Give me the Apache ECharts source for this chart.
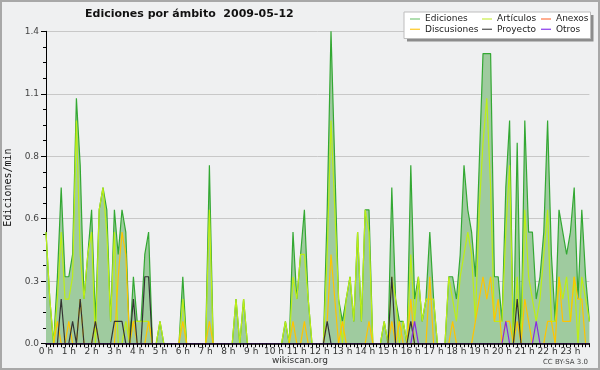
<!DOCTYPE html>
<html><head><meta charset="utf-8">
<script src="https://cdn.jsdelivr.net/npm/echarts@6/dist/echarts.min.js"></script>
<style>html,body{margin:0;padding:0;background:#eff0f1}#c{width:600px;height:370px}</style>
</head><body><div id="c"></div>
<script>
const hourLabels = ['0 h','1 h','2 h','3 h','4 h','5 h','6 h','7 h','8 h','9 h','10 h','11 h',
  '12 h','13 h','14 h','15 h','16 h','17 h','18 h','19 h','20 h','21 h','22 h','23 h'];

const ediciones = [
0.5,0.2,0,0.3,0.7,0.3,0.3,0.4,1.1,0.8,0.2,0.4,
0.6,0.1,0.6,0.7,0.6,0.1,0.6,0.4,0.6,0.5,0,0.3,
0.1,0.1,0.4,0.5,0,0,0.1,0,0,0,0,0,
0.3,0,0,0,0,0,0,0.8,0,0,0,0,
0,0,0.2,0,0.2,0,0,0,0,0,0,0,
0,0,0,0.1,0,0.5,0.2,0.4,0.6,0.2,0,0,
0,0,0.6,1.4,0.8,0.2,0.1,0.2,0.3,0.1,0.5,0.1,
0.6,0.6,0,0,0,0.1,0,0.7,0.2,0.1,0.1,0,
0.8,0.2,0.3,0.1,0.2,0.5,0.2,0,0,0,0.3,0.3,
0.2,0.4,0.8,0.6,0.5,0.3,0.8,1.3,1.3,1.3,0.3,0.3,
0.1,0.7,1.0,0,0.9,0,1.0,0.5,0.5,0.2,0.3,0.5,
1.0,0.4,0.1,0.6,0.5,0.4,0.5,0.7,0.2,0.6,0.3,0.1];

const articulos = [
0.5,0.2,0,0.2,0.5,0.2,0.2,0.3,1.0,0.4,0.2,0.4,
0.5,0,0.6,0.7,0.5,0.1,0.5,0,0,0.1,0,0.1,
0.1,0.1,0.1,0.1,0,0,0.1,0,0,0,0,0,
0.2,0,0,0,0,0,0,0.6,0,0,0,0,
0,0,0.2,0,0.2,0,0,0,0,0,0,0,
0,0,0,0.1,0,0.3,0.2,0.4,0.4,0.2,0,0,
0,0,0.4,1.0,0.6,0.2,0,0.2,0.3,0.1,0.5,0.1,
0.6,0.5,0,0,0,0.1,0,0.3,0.2,0,0.1,0,
0.4,0.1,0.3,0.1,0.2,0.2,0.2,0,0,0,0.3,0.2,
0.1,0.3,0.4,0.5,0.4,0.1,0.6,0.9,1.1,0.7,0.1,0.1,
0.1,0.5,0.8,0,0.3,0,0.6,0.3,0.2,0.1,0.2,0.4,
0.6,0.1,0.1,0.3,0.2,0.3,0.1,0.3,0,0.3,0.2,0.1];

const anexos = [
0,0,0,0,0,0,0,0,0,0,0,0,
0,0,0,0,0,0,0,0,0,0,0,0,
0,0,0,0,0,0,0,0,0,0,0,0,
0,0,0,0,0,0,0,0,0,0,0,0,
0,0,0,0,0,0,0,0,0,0,0,0,
0,0,0,0,0,0,0,0,0,0,0,0,
0,0,0,0,0,0,0,0,0,0,0,0,
0,0,0,0,0,0,0,0,0,0,0,0,
0,0,0,0,0,0,0,0,0,0,0,0,
0,0,0,0,0,0,0,0,0,0,0,0,
0,0,0,0,0,0,0,0,0,0,0,0,
0,0,0,0,0,0,0,0,0,0,0,0];

const discusiones = [
0,0,0,0.1,0,0,0.1,0,0,0.2,0,0,
0,0.1,0,0,0,0,0,0.3,0.5,0.4,0,0.1,
0,0,0,0.1,0,0,0,0,0,0,0,0,
0.1,0,0,0,0,0,0,0.1,0,0,0,0,
0,0,0,0,0,0,0,0,0,0,0,0,
0,0,0,0,0,0.1,0,0,0.1,0,0,0,
0,0,0.1,0.4,0.2,0,0.1,0,0,0,0,0,
0,0.1,0,0,0,0,0,0.1,0,0.1,0,0,
0.2,0,0,0,0,0.3,0,0,0,0,0,0.1,
0,0,0,0,0,0.1,0.2,0.3,0.2,0.3,0.1,0.2,
0,0.1,0.1,0,0.1,0,0.2,0.1,0,0,0,0,
0.1,0.1,0,0.3,0.1,0.1,0.1,0.3,0.2,0.2,0,0];

const proyecto = [
0,0,0,0,0.2,0,0,0.1,0,0.2,0,0,
0,0.1,0,0,0,0,0.1,0.1,0.1,0,0,0.2,
0,0,0.3,0.3,0,0,0,0,0,0,0,0,
0,0,0,0,0,0,0,0,0,0,0,0,
0,0,0,0,0,0,0,0,0,0,0,0,
0,0,0,0,0,0,0,0,0,0,0,0,
0,0,0.1,0,0,0,0,0,0,0,0,0,
0,0,0,0,0,0,0,0.3,0,0,0,0,
0.1,0,0,0,0,0,0,0,0,0,0,0,
0,0,0,0,0,0,0,0,0,0,0,0,
0,0,0,0,0.2,0,0,0,0,0,0,0,
0,0,0,0,0,0,0,0,0,0,0,0];

const otros = [
0,0,0,0,0,0,0,0,0,0,0,0,
0,0,0,0,0,0,0,0,0,0,0,0,
0,0,0,0,0,0,0,0,0,0,0,0,
0,0,0,0,0,0,0,0,0,0,0,0,
0,0,0,0,0,0,0,0,0,0,0,0,
0,0,0,0,0,0,0,0,0,0,0,0,
0,0,0,0,0,0,0,0,0,0,0,0,
0,0,0,0,0,0,0,0,0,0,0,0,
0,0.1,0,0,0,0,0,0,0,0,0,0,
0,0,0,0,0,0,0,0,0,0,0,0,
0,0.1,0,0,0,0,0,0,0,0.1,0,0,
0,0,0,0,0,0,0,0,0,0,0,0];

// 10-minute slots (category names)
const slots = [];
hourLabels.forEach(function (h) { for (let m = 0; m < 60; m += 10) slots.push(h + (m ? ' ' + m : '')); });

const FONT = 'DejaVu Sans';
const chart = echarts.init(document.getElementById('c'), null, { renderer: 'canvas' });

function lineSeries(name, data, color, extra) {
  return Object.assign({
    name: name, type: 'line', data: data, symbol: 'none', showSymbol: false,
    lineStyle: { color: color, width: 1.2 }, itemStyle: { color: color },
    silent: true, animation: false
  }, extra || {});
}

function legendItem(name, color, left, top) {
  return {
    show: true, left: left, top: top, padding: 0, itemGap: 0, z: 20,
    icon: 'rect', itemWidth: 10, itemHeight: 1.4, selectedMode: false,
    data: [{ name: name, icon: 'rect', itemStyle: { color: color, borderWidth: 0 } }],
    textStyle: { fontFamily: FONT, fontSize: 9, color: '#222', lineHeight: 10 }
  };
}

chart.setOption({
  backgroundColor: '#eff0f1',
  animation: false,
  title: {
    text: 'Ediciones por ámbito  2009-05-12', left: 85, top: 7, padding: 0,
    textStyle: { fontFamily: FONT, fontWeight: 'bold', fontSize: 11, color: '#111', lineHeight: 14 }
  },
  legend: [
    legendItem('Ediciones', '#8fd08f', 410, 14),
    legendItem('Discusiones', '#ffd040', 410, 24.3),
    legendItem('Artículos', '#d0f060', 482, 14),
    legendItem('Proyecto', '#666666', 482, 24.3),
    legendItem('Anexos', '#ff8a60', 541, 14),
    legendItem('Otros', '#9955ee', 541, 24.3)
  ],
  grid: { left: 46, right: 10.6, top: 31.3, bottom: 26.3, outerBoundsMode: 'none', containLabel: false },
  xAxis: {
    type: 'category', data: slots, boundaryGap: false, z: 10,
    axisLine: { lineStyle: { color: '#000', width: 1.5 } },
    axisTick: { interval: 0, length: 3.5, lineStyle: { color: '#000' } },
    axisLabel: {
      interval: function (idx) { return idx % 6 === 0; },
      formatter: function (v, idx) { return hourLabels[idx / 6] || ''; },
      fontFamily: FONT, fontSize: 9, color: '#333', margin: 3
    },
    splitLine: { show: false }
  },
  yAxis: {
    type: 'value', min: 0, max: 1.4, interval: 0.28,
    name: 'Ediciones/min', nameLocation: 'middle', nameRotate: 90, nameGap: 31,
    nameTextStyle: { fontFamily: 'DejaVu Sans Mono', fontSize: 10, color: '#111' },
    axisLine: { show: true, lineStyle: { color: '#000', width: 1 } },
    axisTick: { show: true, length: 5, lineStyle: { color: '#000' } },
    minorTick: { show: true, splitNumber: 4, length: 3, lineStyle: { color: '#000' } },
    axisLabel: {
      formatter: function (v) { return v.toFixed(1); },
      fontFamily: FONT, fontSize: 9, color: '#444', margin: 7
    },
    splitLine: { show: true, lineStyle: { color: '#c8c8c8', width: 1 } }
  },
  series: [
    lineSeries('Ediciones', ediciones, '#33a833', { areaStyle: { color: '#9fcb9f', opacity: 1 } }),
    lineSeries('Artículos', articulos, '#bdee16'),
    lineSeries('Anexos', anexos, '#ff6633'),
    lineSeries('Discusiones', discusiones, '#ffc400'),
    lineSeries('Proyecto', proyecto, '#333333'),
    lineSeries('Otros', otros, '#8a2be2')
  ],
  graphic: [
    { type: 'rect', z: 1, shape: { x: 407, y: 15, width: 186.5, height: 26.5 }, style: { fill: '#8c8c8c' } },
    { type: 'rect', z: 2, shape: { x: 404, y: 12, width: 186.5, height: 26.5 }, style: { fill: '#ffffff', stroke: '#bdbdbd', lineWidth: 1 } },
    { type: 'text', z: 60, x: 300, y: 361, style: { text: 'wikiscan.org', font: '9px "DejaVu Sans"', fill: '#333', textAlign: 'center', textVerticalAlign: 'middle' } },
    { type: 'text', z: 60, x: 588, y: 362.5, style: { text: 'CC BY-SA 3.0', font: '7px "DejaVu Sans"', fill: '#444', textAlign: 'right', textVerticalAlign: 'middle' } },
    { type: 'rect', z: 100, silent: true, shape: { x: 1, y: 1, width: 598, height: 368 }, style: { fill: 'none', stroke: '#a8a8a8', lineWidth: 2 } }
  ]
});
</script>
</body></html>
